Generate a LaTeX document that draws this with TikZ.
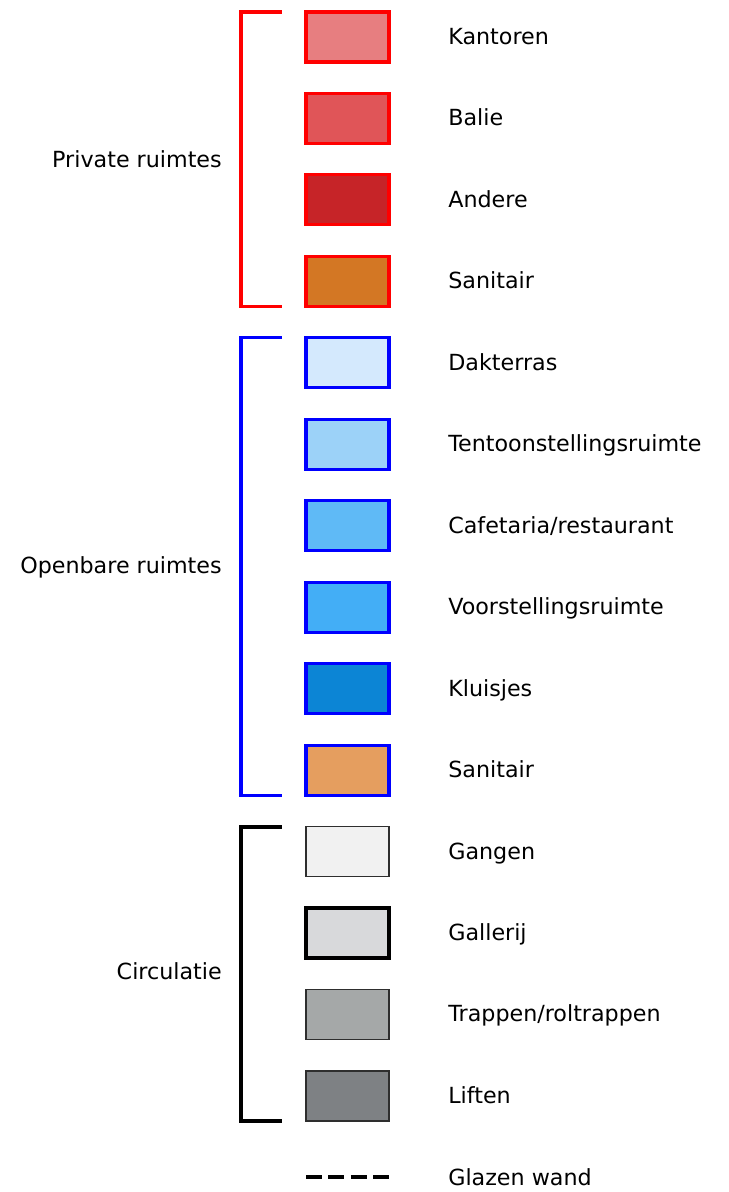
\documentclass[tikz,border=0pt]{standalone}
\usepackage{fontspec}
\setmainfont{DejaVu Sans}
\usepackage{xcolor}
\usetikzlibrary{positioning}

\definecolor{privred}{HTML}{FF0000}
\definecolor{openblue}{HTML}{0000FF}
\definecolor{kantorenfill}{HTML}{E77E80}
\definecolor{baliefill}{HTML}{E05558}
\definecolor{anderefill}{HTML}{C62428}
\definecolor{sanprivfill}{HTML}{D37724}
\definecolor{dakfill}{HTML}{D4E9FD}
\definecolor{tentfill}{HTML}{9CD2F8}
\definecolor{cafefill}{HTML}{5FBAF6}
\definecolor{voorfill}{HTML}{43AEF6}
\definecolor{kluisfill}{HTML}{0C85D5}
\definecolor{sanopenfill}{HTML}{E59E5F}
\definecolor{gangfill}{HTML}{F1F1F1}
\definecolor{galfill}{HTML}{D8D9DB}
\definecolor{trapfill}{HTML}{A5A8A8}
\definecolor{liftfill}{HTML}{7E8184}
\definecolor{thinedge}{HTML}{2E2E2E}

\begin{document}
\begin{tikzpicture}[x=0.025cm, y=-0.025cm,
  swatch/.style={draw, minimum width=2.075cm, minimum height=1.25cm, inner sep=0pt, outer sep=0pt},
  privbox/.style={swatch, draw=privred, line width=2.2pt},
  openbox/.style={swatch, draw=openblue, line width=2.2pt},
  circbox/.style={swatch, draw=thinedge, line width=0.9pt},
  tag/.style={inner sep=0pt, text height=1.25em, text depth=0.2em, font=\fontsize{15.8}{19}\selectfont},
  grouptag/.style={tag, anchor=east},
  bracket/.style={line width=2.3pt}]
\useasboundingbox (0,0) rectangle (729,1192);

% private ruimtes
\node[privbox, fill=kantorenfill] (kantoren) at (347.5,37) {};
\node[privbox, fill=baliefill, below=0.786cm of kantoren] (balie) {};
\node[privbox, fill=anderefill, below=0.786cm of balie] (andere) {};
\node[privbox, fill=sanprivfill, below=0.786cm of andere] (sanpriv) {};

% openbare ruimtes
\node[openbox, fill=dakfill, below=0.786cm of sanpriv] (dak) {};
\node[openbox, fill=tentfill, below=0.786cm of dak] (tent) {};
\node[openbox, fill=cafefill, below=0.786cm of tent] (cafe) {};
\node[openbox, fill=voorfill, below=0.786cm of cafe] (voor) {};
\node[openbox, fill=kluisfill, below=0.786cm of voor] (kluis) {};
\node[openbox, fill=sanopenfill, below=0.786cm of kluis] (sanopen) {};

% circulatie
\node[circbox, fill=gangfill, below=0.786cm of sanopen] (gang) {};
\node[circbox, fill=galfill, line width=2.6pt, draw=black, below=0.786cm of gang] (gal) {};
\node[circbox, fill=trapfill, below=0.786cm of gal] (trap) {};
\node[circbox, fill=liftfill, below=0.786cm of trap] (lift) {};

% glazen wand
\coordinate (glas-l) at (306,1177);
\coordinate (glas-r) at (389,1177);
\draw[line width=2.7pt, dash pattern=on 0.4cm off 0.16cm] (glas-l) -- (glas-r);

% labels
\node[tag, right=1.475cm of kantoren] (kantoren-t) {Kantoren};
\node[tag, right=1.475cm of balie] (balie-t) {Balie};
\node[tag, right=1.475cm of andere] (andere-t) {Andere};
\node[tag, right=1.475cm of sanpriv] (sanpriv-t) {Sanitair};
\node[tag, right=1.475cm of dak] (dak-t) {Dakterras};
\node[tag, right=1.475cm of tent] (tent-t) {Tentoonstellingsruimte};
\node[tag, right=1.475cm of cafe] (cafe-t) {Cafetaria/restaurant};
\node[tag, right=1.475cm of voor] (voor-t) {Voorstellingsruimte};
\node[tag, right=1.475cm of kluis] (kluis-t) {Kluisjes};
\node[tag, right=1.475cm of sanopen] (sanopen-t) {Sanitair};
\node[tag, right=1.475cm of gang] (gang-t) {Gangen};
\node[tag, right=1.475cm of gal] (gal-t) {Gallerij};
\node[tag, right=1.475cm of trap] (trap-t) {Trappen/roltrappen};
\node[tag, right=1.475cm of lift] (lift-t) {Liften};
\node[tag, anchor=west] (glas-t) at (448,1178) {Glazen wand};

% brackets
\draw[bracket, privred] ([xshift=-0.6cm]kantoren.north west) -- ++(-1.025cm,0) coordinate (priv-top)
  |- ([xshift=-0.6cm]sanpriv.south west);
\draw[bracket, openblue] ([xshift=-0.6cm]dak.north west) -- ++(-1.025cm,0) coordinate (open-top)
  |- ([xshift=-0.6cm]sanopen.south west);
\draw[bracket, black, line width=2.8pt] ([xshift=-0.6cm]gang.north west) -- ++(-1.025cm,0) coordinate (circ-top)
  |- ([xshift=-0.6cm]lift.south west);

\node[grouptag] (private) at (222,160) {Private ruimtes};
\node[grouptag] (openbaar) at (222,566) {Openbare ruimtes};
\node[grouptag] (circulatie) at (222,972) {Circulatie};
\end{tikzpicture}
\end{document}
